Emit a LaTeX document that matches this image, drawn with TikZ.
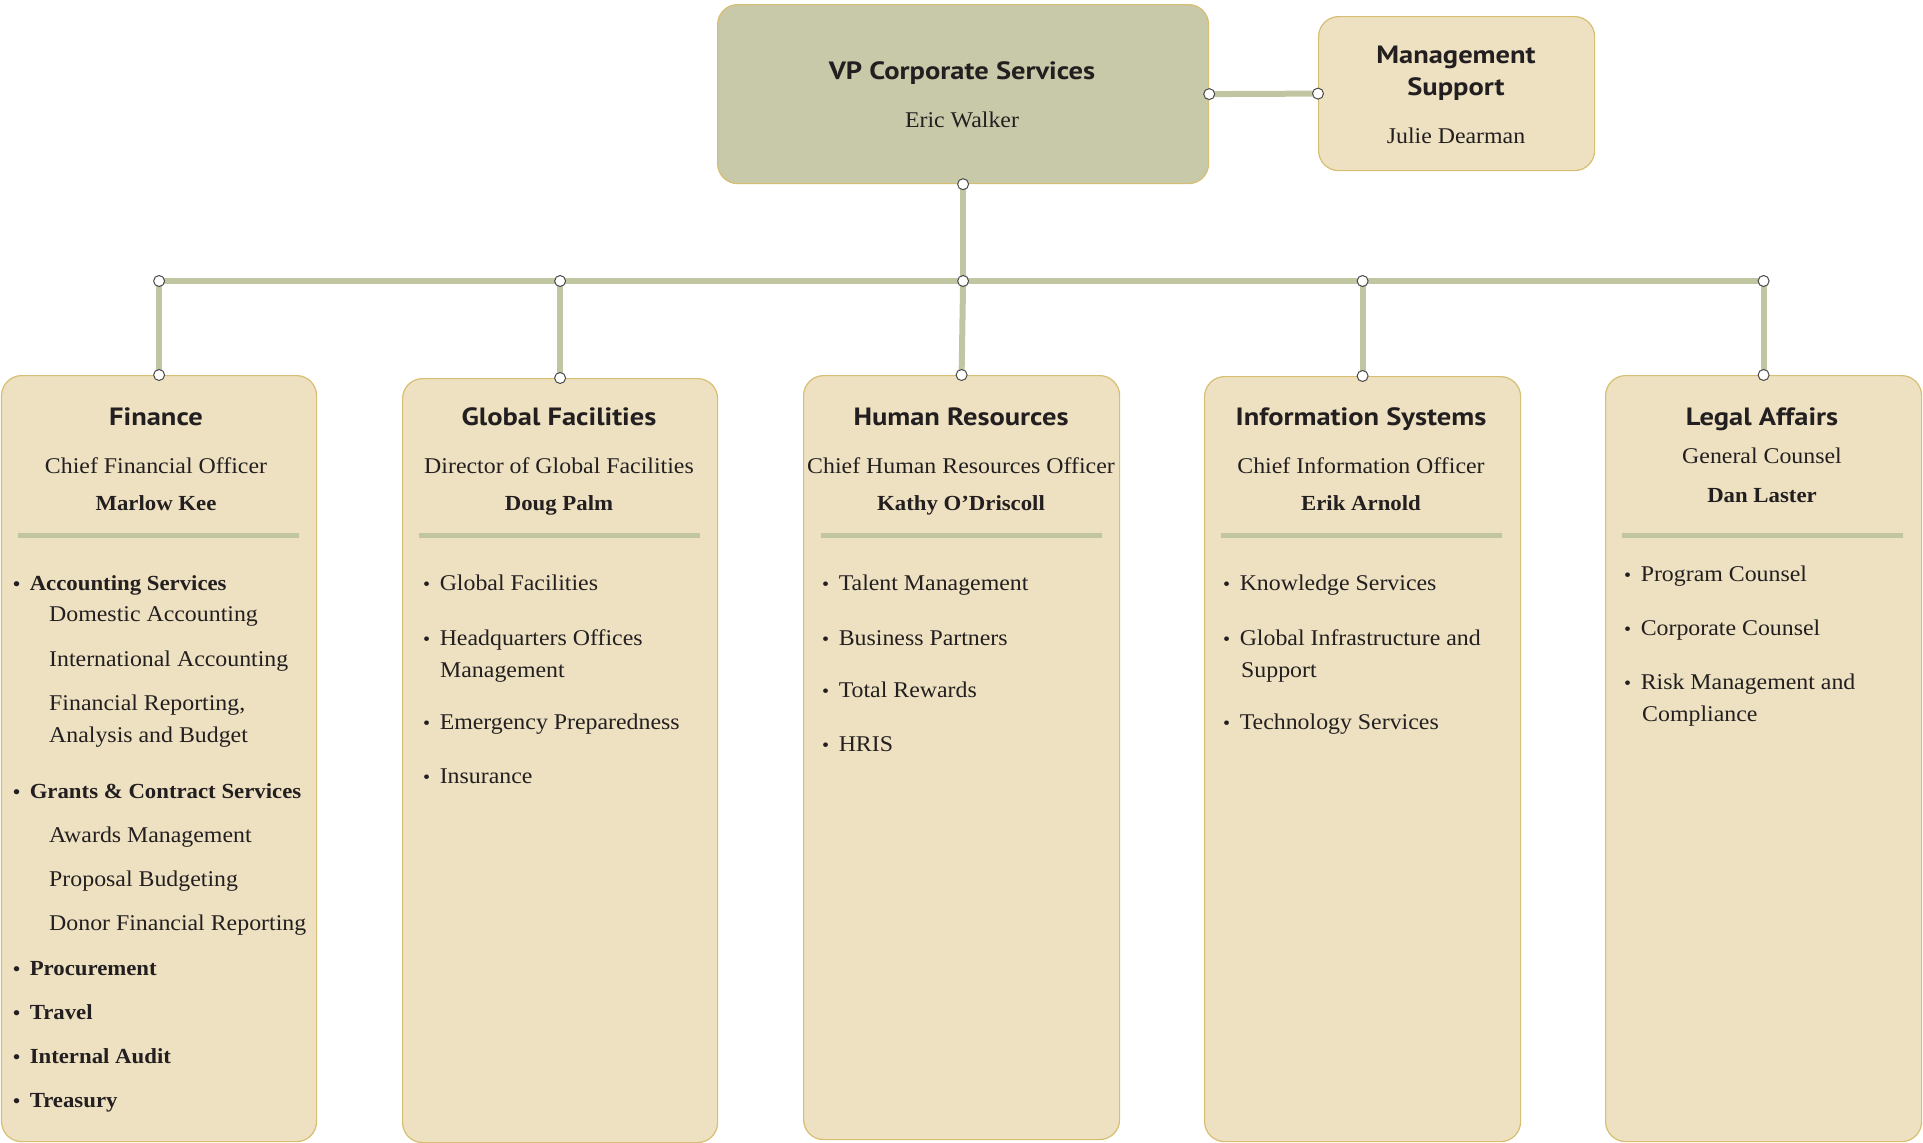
\documentclass[tikz,border=0pt]{standalone}
\usepackage{fontspec}
\setmainfont[FakeStretch=1.06]{Liberation Serif}
\newfontfamily\hdfont[FakeStretch=1.14]{PT Sans}
\definecolor{boxfill}{HTML}{EDE1C1}
\definecolor{boxline}{HTML}{D8BE72}
\definecolor{vpfill}{HTML}{C7C9A8}
\definecolor{connc}{HTML}{C2C5A2}
\definecolor{txt}{HTML}{231F20}
\definecolor{dotline}{HTML}{4A4A4A}
\newcommand{\bt}{{\fontsize{19}{22}\selectfont\textbullet}\hspace{9.5pt}}
\begin{document}
\begin{tikzpicture}[x=1pt,y=-1pt,
  dept/.style={draw=boxline, fill=boxfill, line width=1.2pt, rounded corners=20pt, anchor=north west, inner sep=0pt},
  conn/.style={draw=connc, line width=6pt},
  dotst/.style={draw=dotline, fill=white, line width=1pt},
  sepline/.style={draw=connc, line width=5pt},
  ttl/.style={font=\hdfont\bfseries\fontsize{25}{29}\selectfont, text=txt, anchor=base, yshift=-8.5pt, inner sep=0pt},
  sub/.style={font=\fontsize{22.5}{26}\selectfont, text=txt, anchor=base, yshift=-7.5pt, inner sep=0pt},
  nm/.style={font=\bfseries\fontsize{21.5}{26}\selectfont, text=txt, anchor=base, yshift=-7.5pt, inner sep=0pt},
  itm/.style={font=\fontsize{22.5}{26}\selectfont, text=txt, anchor=base west, yshift=-7.5pt, inner sep=0pt},
  bitm/.style={font=\bfseries\fontsize{21.5}{26}\selectfont, text=txt, anchor=base west, yshift=-7.5pt, inner sep=0pt}
]
\useasboundingbox (0,0) rectangle (1923,1143);

% top boxes
\node[dept, fill=vpfill, minimum width=491pt, minimum height=179pt] (vp) at (717,4) {};
\node[dept, minimum width=276pt, minimum height=154pt] (ms) at (1318,16) {};

% department boxes
\node[dept, minimum width=315pt, minimum height=766pt] (fin) at (1,375) {};
\node[dept, minimum width=315pt, minimum height=764pt] (gf) at (402,378) {};
\node[dept, minimum width=316pt, minimum height=764pt] (hr) at (803,375) {};
\node[dept, minimum width=316pt, minimum height=765pt] (is) at (1204,376) {};
\node[dept, minimum width=316pt, minimum height=766pt] (la) at (1605,375) {};

% connectors
\coordinate (hub) at (vp.south |- 0,281);
\coordinate (j1) at (fin.north |- hub);
\coordinate (j2) at (gf.north |- hub);
\coordinate (j4) at (is.north |- hub);
\coordinate (j5) at (la.north |- hub);
\draw[conn] (vp.east) -- (ms.west);
\draw[conn] (vp.south) -- (hub);
\draw[conn] (j1) -- (j5);
\draw[conn] (j1) -- (fin.north);
\draw[conn] (j2) -- (gf.north);
\draw[conn] (hub) -- (hr.north);
\draw[conn] (j4) -- (is.north);
\draw[conn] (j5) -- (la.north);
\foreach \p in {vp.east, ms.west, vp.south, hub, j1, j2, j4, j5, fin.north, gf.north, hr.north, is.north, la.north}
  \draw[dotst] (\p) circle (5.5pt);

% separators
\draw[sepline] (18,535) -- (299,535);
\draw[sepline] (419,535) -- (700,535);
\draw[sepline] (821,535) -- (1102,535);
\draw[sepline] (1221,535) -- (1502,535);
\draw[sepline] (1622,535) -- (1903,535);

% top texts
\node[ttl] (vpt) at (962,71) {VP Corporate Services};
\node[sub] (vpn) at (962,120) {Eric Walker};
\node[ttl] (mst1) at (1456,55) {Management};
\node[ttl] (mst2) at (1456,87) {Support};
\node[sub] (msn) at (1456,136) {Julie Dearman};

% Finance
\node[ttl] (fint) at (156,417) {Finance};
\node[sub] (fins) at (156,466) {Chief Financial Officer};
\node[nm] (finn) at (156,503) {Marlow Kee};
\node[bitm] (f1) at (13,583) {\bt Accounting Services};
\node[itm] (f2) at (49,614) {Domestic Accounting};
\node[itm] (f3) at (49,659) {International Accounting};
\node[itm] (f4) at (49,703) {Financial Reporting,};
\node[itm] (f5) at (49,735) {Analysis and Budget};
\node[bitm] (f6) at (13,791) {\bt Grants \& Contract Services};
\node[itm] (f7) at (49,835) {Awards Management};
\node[itm] (f8) at (49,879) {Proposal Budgeting};
\node[itm] (f9) at (49,923) {Donor Financial Reporting};
\node[bitm] (f10) at (13,968) {\bt Procurement};
\node[bitm] (f11) at (13,1012) {\bt Travel};
\node[bitm] (f12) at (13,1056) {\bt Internal Audit};
\node[bitm] (f13) at (13,1100) {\bt Treasury};

% Global Facilities
\node[ttl] (gft) at (559,417) {Global Facilities};
\node[sub] (gfs) at (559,466) {Director of Global Facilities};
\node[nm] (gfn) at (559,503) {Doug Palm};
\node[itm] (g1) at (423,583) {\bt Global Facilities};
\node[itm] (g2) at (423,638) {\bt Headquarters Offices};
\node[itm] (g3) at (440,670) {Management};
\node[itm] (g4) at (423,722) {\bt Emergency Preparedness};
\node[itm] (g5) at (423,776) {\bt Insurance};

% Human Resources
\node[ttl] (hrt) at (961,417) {Human Resources};
\node[sub] (hrs) at (961,466) {Chief Human Resources Officer};
\node[nm] (hrn) at (961,503) {Kathy O’Driscoll};
\node[itm] (h1) at (822,583) {\bt Talent Management};
\node[itm] (h2) at (822,638) {\bt Business Partners};
\node[itm] (h3) at (822,690) {\bt Total Rewards};
\node[itm] (h4) at (822,744) {\bt HRIS};

% Information Systems
\node[ttl] (ist) at (1361,417) {Information Systems};
\node[sub] (iss) at (1361,466) {Chief Information Officer};
\node[nm] (isn) at (1361,503) {Erik Arnold};
\node[itm] (i1) at (1223,583) {\bt Knowledge Services};
\node[itm] (i2) at (1223,638) {\bt Global Infrastructure and};
\node[itm] (i3) at (1241,670) {Support};
\node[itm] (i4) at (1223,722) {\bt Technology Services};

% Legal Affairs
\node[ttl] (lat) at (1762,417) {Legal Affairs};
\node[sub] (las) at (1762,456) {General Counsel};
\node[nm] (lan) at (1762,495) {Dan Laster};
\node[itm] (l1) at (1624,574) {\bt Program Counsel};
\node[itm] (l2) at (1624,628) {\bt Corporate Counsel};
\node[itm] (l3) at (1624,682) {\bt Risk Management and};
\node[itm] (l4) at (1642,714) {Compliance};
\end{tikzpicture}
\end{document}
